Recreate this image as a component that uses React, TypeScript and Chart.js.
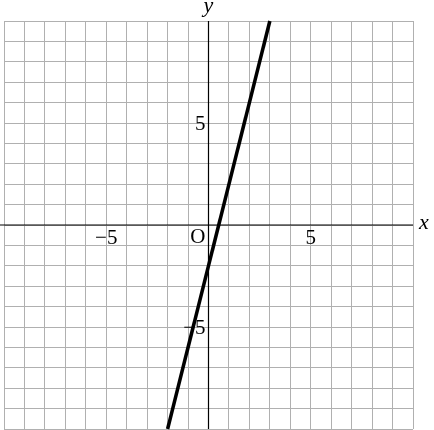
import { useEffect, useRef } from 'react';
import { Chart, ChartConfiguration, Plugin, registerables } from 'chart.js';

Chart.register(...registerables);

// graph range and the line y = 4x - 2
const axisMin = -10;
const axisMax = 10;
const lineX = [-2, 3];
const lineY = [-10, 10];
const xTickLabels = [{ value: -5, text: '\u22125' }, { value: 5, text: '5' }];
const yTickLabels = [{ value: 5, text: '5' }, { value: -5, text: '\u22125' }];

const FONT = '"Liberation Serif", "DejaVu Serif", serif';

// draws the axes, tick numbers and axis names over the grid
const axesPlugin: Plugin = {
  id: 'axesPlugin',
  afterDatasetsDraw(chart) {
    const { ctx, chartArea, scales } = chart;
    const xs = scales.x;
    const ys = scales.y;
    const x0 = xs.getPixelForValue(0);
    const y0 = ys.getPixelForValue(0);

    ctx.save();
    ctx.strokeStyle = '#000';
    ctx.lineWidth = 1.2;
    ctx.beginPath();
    ctx.moveTo(0, y0);
    ctx.lineTo(chartArea.right, y0);
    ctx.moveTo(x0, chartArea.top);
    ctx.lineTo(x0, chartArea.bottom);
    ctx.stroke();

    ctx.fillStyle = '#000';
    ctx.font = `21px ${FONT}`;
    ctx.textBaseline = 'middle';
    ctx.textAlign = 'center';
    xTickLabels.forEach(t => {
      ctx.fillText(t.text, xs.getPixelForValue(t.value), y0 + 13);
    });
    ctx.textAlign = 'right';
    yTickLabels.forEach(t => {
      ctx.fillText(t.text, x0 - 3, ys.getPixelForValue(t.value) + 1);
    });
    ctx.fillText('O', x0 - 3, y0 + 12);

    ctx.font = `italic 22px ${FONT}`;
    ctx.textAlign = 'center';
    ctx.fillText('y', x0, chartArea.top - 15);
    ctx.fillText('x', chartArea.right + 11, y0 - 2);
    ctx.restore();
  }
};

export default function App() {
  const canvasRef = useRef<HTMLCanvasElement>(null);
  const chartRef = useRef<Chart | null>(null);

  useEffect(() => {
    if (!canvasRef.current) return;
    if (chartRef.current) chartRef.current.destroy();
    const ctx = canvasRef.current.getContext('2d');
    if (!ctx) return;

    const gridOpts = {
      color: '#b0b0b0',
      lineWidth: 1,
      drawTicks: false
    };

    const config: ChartConfiguration = {
      type: 'scatter',
      data: {
        datasets: [
          {
            data: lineX.map((x, i) => ({ x, y: lineY[i] })),
            showLine: true,
            borderColor: '#000',
            borderWidth: 3.5,
            pointRadius: 0,
            clip: false
          }
        ]
      },
      options: {
        animation: false,
        responsive: true,
        maintainAspectRatio: false,
        layout: { padding: { left: 4, top: 21, right: 21, bottom: 1 } },
        plugins: {
          legend: { display: false },
          tooltip: { enabled: false }
        },
        scales: {
          x: {
            type: 'linear',
            min: axisMin,
            max: axisMax,
            ticks: { display: false, stepSize: 1 },
            grid: gridOpts,
            border: { display: false }
          },
          y: {
            type: 'linear',
            min: axisMin,
            max: axisMax,
            ticks: { display: false, stepSize: 1 },
            grid: gridOpts,
            border: { display: false }
          }
        }
      },
      plugins: [axesPlugin]
    };

    chartRef.current = new Chart(ctx, config);

    return () => {
      if (chartRef.current) {
        chartRef.current.destroy();
        chartRef.current = null;
      }
    };
  }, []);

  return (
    <div style={{ position: 'fixed', left: 0, top: 0, width: 434, height: 430, background: '#fff' }}>
      <canvas ref={canvasRef}></canvas>
    </div>
  );
}
